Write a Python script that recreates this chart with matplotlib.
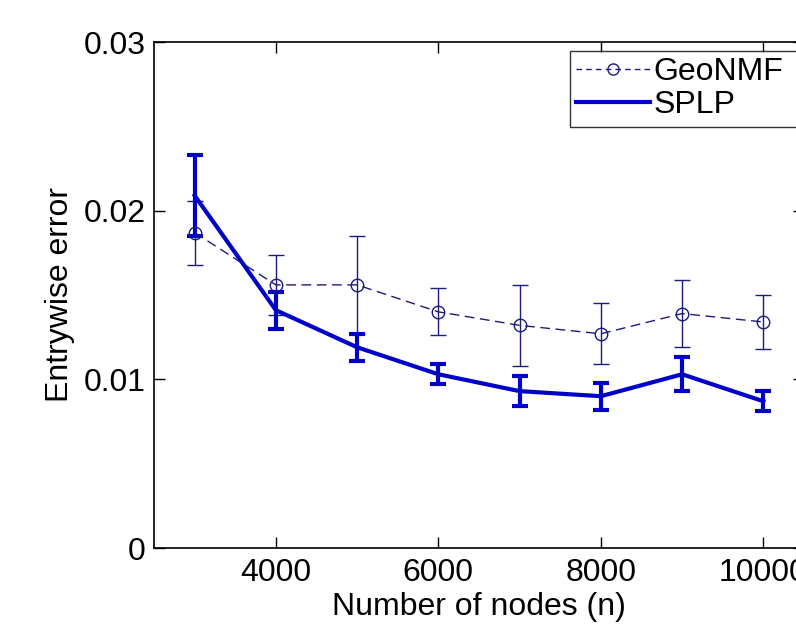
import matplotlib
matplotlib.use("Agg")
import matplotlib.pyplot as plt
from matplotlib.lines import Line2D

n_nodes = [3000, 4000, 5000, 6000, 7000, 8000, 9000, 10000]
geonmf_mean = [0.0187, 0.0156, 0.0156, 0.0140, 0.0132, 0.0127, 0.0139, 0.0134]
geonmf_err = [0.0019, 0.0018, 0.0029, 0.0014, 0.0024, 0.0018, 0.0020, 0.0016]
splp_mean = [0.0209, 0.0141, 0.0119, 0.0103, 0.0093, 0.0090, 0.0103, 0.0087]
splp_err = [0.0024, 0.0011, 0.0008, 0.0006, 0.0009, 0.0008, 0.0010, 0.0006]
xticks = [4000, 6000, 8000, 10000]
yticks = [0, 0.01, 0.02, 0.03]
ytick_labels = ["0", "0.01", "0.02", "0.03"]
series_names = ['GeoNMF', 'SPLP']

plt.rcParams['font.family'] = ['Liberation Sans', 'DejaVu Sans']

fig = plt.figure(figsize=(7.96, 6.28), dpi=100)
ax = fig.add_axes([154/796, 80/628, 650/796, 506/628])

geo_color = '#1c1c78'
splp_color = '#0000c8'
geo_ls = (0, (7, 4))

ax.errorbar(n_nodes, geonmf_mean, yerr=geonmf_err, color=geo_color, lw=1.0,
            ls=geo_ls, marker='o', mfc='none', mec=geo_color, ms=9, mew=1.0,
            capsize=6, capthick=1.0, elinewidth=1.0)
ax.errorbar(n_nodes, splp_mean, yerr=splp_err, color=splp_color, lw=3.0,
            capsize=6, capthick=3.0, elinewidth=3.0)

ax.set_xlim(2500, 10500)
ax.set_ylim(0, 0.03)
ax.set_xticks(xticks)
ax.set_xticklabels([str(v) for v in xticks])
ax.set_yticks(yticks)
ax.set_yticklabels(ytick_labels)
ax.tick_params(direction='in', length=8, width=1, top=True, right=True,
               labelsize=23)
ax.tick_params(axis='y', pad=6)
ax.tick_params(axis='x', pad=7)
for sp in ax.spines.values():
    sp.set_linewidth(1.2)

ax.set_xlabel('Number of nodes (n)', fontsize=23, labelpad=3)
ax.set_ylabel('Entrywise error', fontsize=23, labelpad=6)

handles = [
    Line2D([], [], color=geo_color, lw=1.0, ls=(0, (4, 3)), marker='o',
           mfc='none', mec=geo_color, ms=8, mew=1.0),
    Line2D([], [], color=splp_color, lw=3.0),
]
leg = ax.legend(handles, series_names, loc='upper left',
                bbox_to_anchor=(0.64, 0.86, 0.42, 0.123), mode='expand',
                fontsize=23,
                frameon=True, fancybox=False, edgecolor='black',
                handlelength=2.3, handletextpad=0.1, borderpad=0.2,
                labelspacing=0.1, borderaxespad=0)
leg.get_frame().set_linewidth(1.0)

fig.savefig('out.png', dpi=100)
